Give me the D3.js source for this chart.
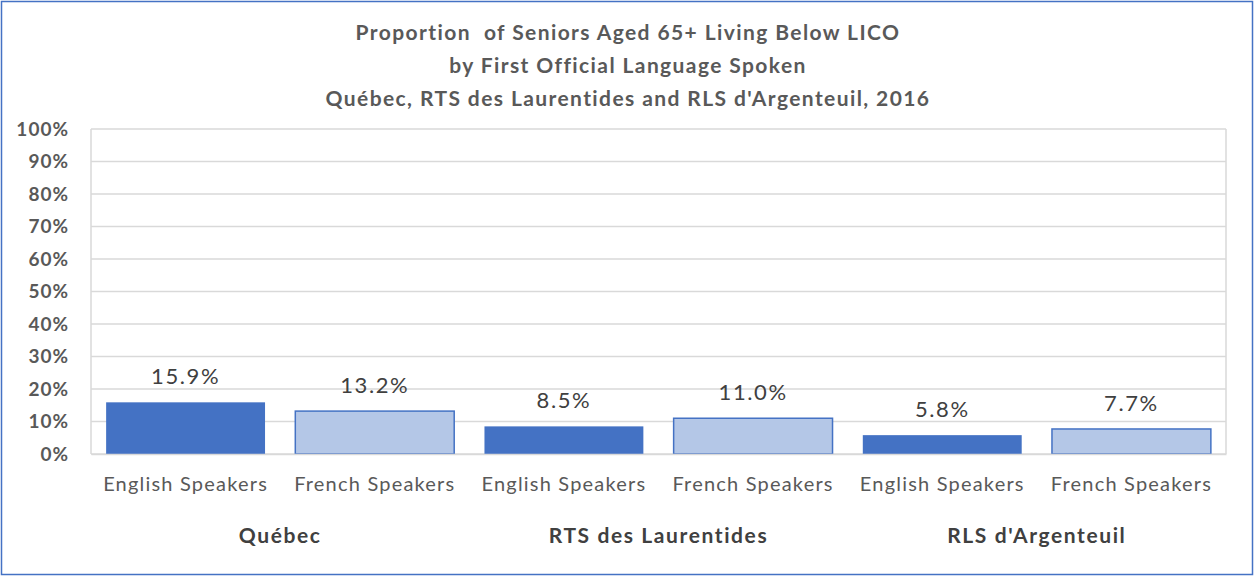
<!DOCTYPE html>
<html><head><meta charset="utf-8">
<script src="https://cdn.jsdelivr.net/npm/d3@7"></script>
<style>body{margin:0;background:#fff}svg{display:block}text{font-family:Lato,"Open Sans",sans-serif}</style>
</head><body><svg id="c" width="1255" height="577"></svg>
<script>
const groups = ["Québec", "RTS des Laurentides", "RLS d'Argenteuil"];
const categories = ["English Speakers", "French Speakers"];
const englishValues = [15.9, 8.5, 5.8];
const frenchValues = [13.2, 11.0, 7.7];
const yTicks = [0, 10, 20, 30, 40, 50, 60, 70, 80, 90, 100];
const titleLines = ["Proportion  of Seniors Aged 65+ Living Below LICO", "by First Official Language Spoken", "Québec, RTS des Laurentides and RLS d'Argenteuil, 2016"];

const rows = [];
groups.forEach((g, i) => {
  rows.push({key: g + "|E", group: g, cat: categories[0], v: englishValues[i], s: 0});
  rows.push({key: g + "|F", group: g, cat: categories[1], v: frenchValues[i], s: 1});
});

const svg = d3.select("#c");
const L = 91, R = 1226, T = 129, B = 454;
svg.append("rect").attr("x", 1.5).attr("y", 1.5).attr("width", 1251).attr("height", 573)
  .attr("fill", "#fff").attr("stroke", "#4472C4").attr("stroke-width", 1.5);

const x = d3.scaleBand().domain(rows.map(d => d.key)).range([L, R]).paddingInner(0.16).paddingOuter(0.08);
const xg = d3.scaleBand().domain(groups).range([L, R]);
const y = d3.scaleLinear().domain([0, 100]).range([B, T]);

// gridlines
svg.append("g").selectAll("line").data(yTicks).join("line")
  .attr("x1", L).attr("x2", R).attr("y1", d => y(d)).attr("y2", d => y(d))
  .attr("stroke", "#d9d9d9").attr("stroke-width", 1.5);
svg.append("line").attr("x1", L).attr("x2", L).attr("y1", T).attr("y2", B).attr("stroke", "#d9d9d9").attr("stroke-width", 1.5);
svg.append("line").attr("x1", R).attr("x2", R).attr("y1", T).attr("y2", B).attr("stroke", "#d9d9d9").attr("stroke-width", 1.5);

// y axis
const ya = svg.append("g").attr("transform", `translate(${L},0)`)
  .call(d3.axisLeft(y).tickValues(yTicks).tickFormat(d => d + "%").tickSize(0).tickPadding(22));
ya.select(".domain").remove();
ya.selectAll("text").attr("font-family", "Lato").attr("font-size", 19).attr("font-weight", "bold")
  .attr("letter-spacing", 1).attr("fill", "#595959");

// bars
svg.append("g").selectAll("rect").data(rows).join("rect")
  .attr("x", d => x(d.key)).attr("width", x.bandwidth())
  .attr("y", d => y(d.v)).attr("height", d => y(0) - y(d.v))
  .attr("fill", d => d.s ? "#B4C7E7" : "#4472C4")
  .attr("stroke", d => d.s ? "#4472C4" : "none").attr("stroke-width", 1.5);

// data labels
svg.append("g").selectAll("text").data(rows).join("text")
  .attr("x", d => x(d.key) + x.bandwidth() / 2).attr("y", d => y(d.v) - 18)
  .attr("text-anchor", "middle").attr("font-size", 22).attr("letter-spacing", 1.6).attr("fill", "#404040")
  .text(d => d.v.toFixed(1) + "%");

// x axis category labels
const xa = svg.append("g").attr("transform", `translate(0,${B})`)
  .call(d3.axisBottom(x).tickFormat(k => rows.find(r => r.key === k).cat).tickSize(0).tickPadding(23));
xa.select(".domain").attr("stroke", "#d9d9d9").attr("stroke-width", 1.5);
xa.selectAll("text").attr("font-family", "Lato").attr("font-size", 20).attr("letter-spacing", 1.2).attr("fill", "#595959");

// group labels
svg.append("g").selectAll("text").data(groups).join("text")
  .attr("x", d => xg(d) + xg.bandwidth() / 2).attr("y", 543)
  .attr("text-anchor", "middle").attr("font-size", 21).attr("font-weight", "bold")
  .attr("letter-spacing", 1.6).attr("fill", "#404040")
  .text(d => d);

// title
svg.append("g").selectAll("text").data(titleLines).join("text")
  .attr("x", 628).attr("y", (d, i) => 40 + i * 33)
  .attr("text-anchor", "middle").attr("font-size", 21).attr("font-weight", "bold")
  .attr("letter-spacing", 1.4).attr("fill", "#595959")
  .attr("xml:space", "preserve").style("white-space", "pre")
  .text(d => d);
</script></body></html>
